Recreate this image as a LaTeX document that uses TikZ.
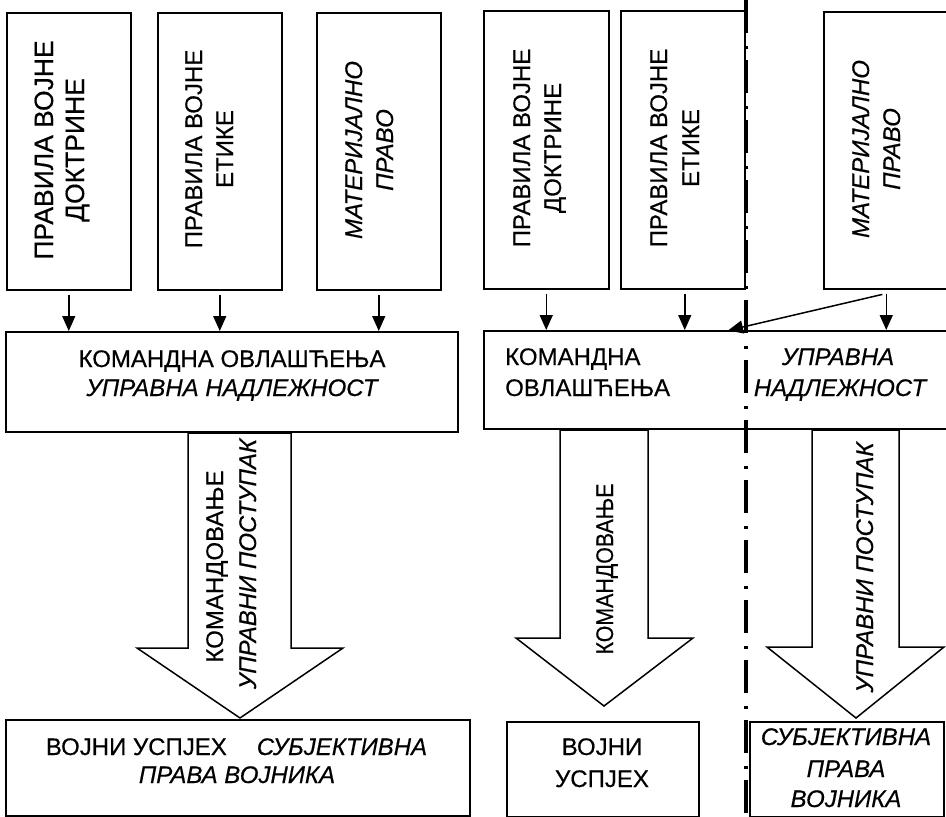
\documentclass[tikz,border=0pt]{standalone}
\usepackage{fontspec}
\setmainfont{Liberation Sans}[FakeBold=0.4]
\usetikzlibrary{arrows.meta}
\begin{document}
\begin{tikzpicture}[x=1pt,y=-1pt,
  box/.style={draw, line width=1.5pt, inner sep=0pt, anchor=north west},
  txt/.style={inner sep=0pt, anchor=base, font=\fontsize{24}{29}\selectfont},
  vt/.style={txt, rotate=90},
  bigfont/.style={font=\fontsize{26.5}{31}\selectfont},
  arr/.style={line width=1.5pt, -{Triangle[length=15pt,width=13pt]}, shorten <=4pt},
  bigarrow/.style={draw, line width=1.5pt, line join=miter, fill=white},
  divider/.style={line width=4pt, dash pattern=on 33pt off 13pt on 3pt off 11pt}
]
\clip (0,0) rectangle (946,817);
\fill[white] (0,0) rectangle (946,817);

% ---------- left diagram ----------
\node[box, minimum width=124pt, minimum height=277pt] (b1) at (6,12) {};
\node[box, minimum width=124pt, minimum height=277pt] (b2) at (157,12) {};
\node[box, minimum width=124pt, minimum height=277pt] (b3) at (316,12) {};
\node[box, minimum width=452pt, minimum height=100pt] (bigL) at (5,331) {};
\node[box, minimum width=464pt, minimum height=96pt] (resL) at (5,719) {};

\draw[arr] (b1.south) -- (b1.south |- bigL.north);
\draw[arr] (b2.south) -- (b2.south |- bigL.north);
\draw[arr] (b3.south) -- (b3.south |- bigL.north);

\draw[bigarrow] (188,433) -- (188,648) -- (137,648) -- (240,718) -- (343,648) -- (291,648) -- (291,433) -- cycle;

\node[vt, bigfont] (t1a) at (53,150) {ПРАВИЛА ВОЈНЕ};
\node[vt, bigfont] (t1b) at (84,150) {ДОКТРИНЕ};
\node[vt] (t2a) at (202,149) {ПРАВИЛА ВОЈНЕ};
\node[vt] (t2b) at (233,149) {ЕТИКЕ};
\node[vt] (t3a) at (362,150) {\itshape МАТЕРИЈАЛНО};
\node[vt] (t3b) at (393,150) {\itshape ПРАВО};

\node[txt] (tLa) at (232,367) {КОМАНДНА ОВЛАШЋЕЊА};
\node[txt] (tLb) at (232,396) {\itshape УПРАВНА НАДЛЕЖНОСТ};

\node[vt] (aLa) at (223,566.5) {КОМАНДОВАЊЕ};
\node[vt] (aLb) at (256,564) {\itshape УПРАВНИ ПОСТУПАК};

\node[txt] (rLa) at (236.5,755) {ВОЈНИ УСПЈЕХ\hspace*{30pt}\itshape СУБЈЕКТИВНА};
\node[txt] (rLb) at (237,783) {\itshape ПРАВА ВОЈНИКА};

% ---------- right diagram ----------
\node[box, minimum width=125pt, minimum height=278pt] (b4) at (483,10) {};
\node[box, minimum width=124pt, minimum height=278pt] (b5) at (620,10) {};
\node[box, minimum width=125pt, minimum height=277pt] (b6) at (823,11) {};
\node[box, minimum width=470pt, minimum height=98pt] (bigR) at (483,330) {};
\node[box, minimum width=192pt, minimum height=95pt] (resR1) at (506,721) {};
\node[box, minimum width=194pt, minimum height=95pt] (resR2) at (749,721) {};

\draw[arr] (b4.south) -- (b4.south |- bigR.north);
\draw[arr] ([xshift=2pt]b5.south) -- ([xshift=2pt]b5.south |- bigR.north);
\draw[arr] (b6.south) -- (b6.south |- bigR.north);
\coordinate (divtop) at (746,0);
\coordinate (divbot) at (746,817);
\coordinate (join) at (bigR.north -| divtop);
\draw[arr, shorten >=-2pt] (b6.south) ++(0,4) -- ([xshift=-16pt]join);

\draw[bigarrow] (560,430) -- (560,638) -- (516,638) -- (604,706) -- (693,638) -- (648,638) -- (648,430) -- cycle;
\draw[bigarrow] (812,430) -- (812,647) -- (767,647) -- (856,718) -- (944,647) -- (899,647) -- (899,430) -- cycle;

\node[vt] (t4a) at (530,148) {ПРАВИЛА ВОЈНЕ};
\node[vt] (t4b) at (561,148) {ДОКТРИНЕ};
\node[vt] (t5a) at (667,148) {ПРАВИЛА ВОЈНЕ};
\node[vt] (t5b) at (699,148) {ЕТИКЕ};
\node[vt] (t6a) at (869,149) {\itshape МАТЕРИЈАЛНО};
\node[vt] (t6b) at (900,149) {\itshape ПРАВО};

\node[txt, anchor=base west] (tRa) at (505,365) {КОМАНДНА};
\node[txt, anchor=base west] (tRb) at (505,396) {ОВЛАШЋЕЊА};
\node[txt] (tRc) at (838,365) {\itshape УПРАВНА};
\node[txt] (tRd) at (840,396) {\itshape НАДЛЕЖНОСТ};

\node[vt] (aRa) at (613,569) {\scalebox{0.89}[1]{КОМАНДОВАЊЕ}};
\node[vt] (aRb) at (873,567.5) {\itshape УПРАВНИ ПОСТУПАК};

\node[txt] (rRa) at (602,755) {ВОЈНИ};
\node[txt] (rRb) at (602,787) {УСПЈЕХ};
\node[txt] (rRc) at (846,745) {\itshape СУБЈЕКТИВНА};
\node[txt] (rRd) at (846,777) {\itshape ПРАВА};
\node[txt] (rRe) at (846,807) {\itshape ВОЈНИКА};

\draw[divider] (divtop) -- (divbot);
\end{tikzpicture}
\end{document}
